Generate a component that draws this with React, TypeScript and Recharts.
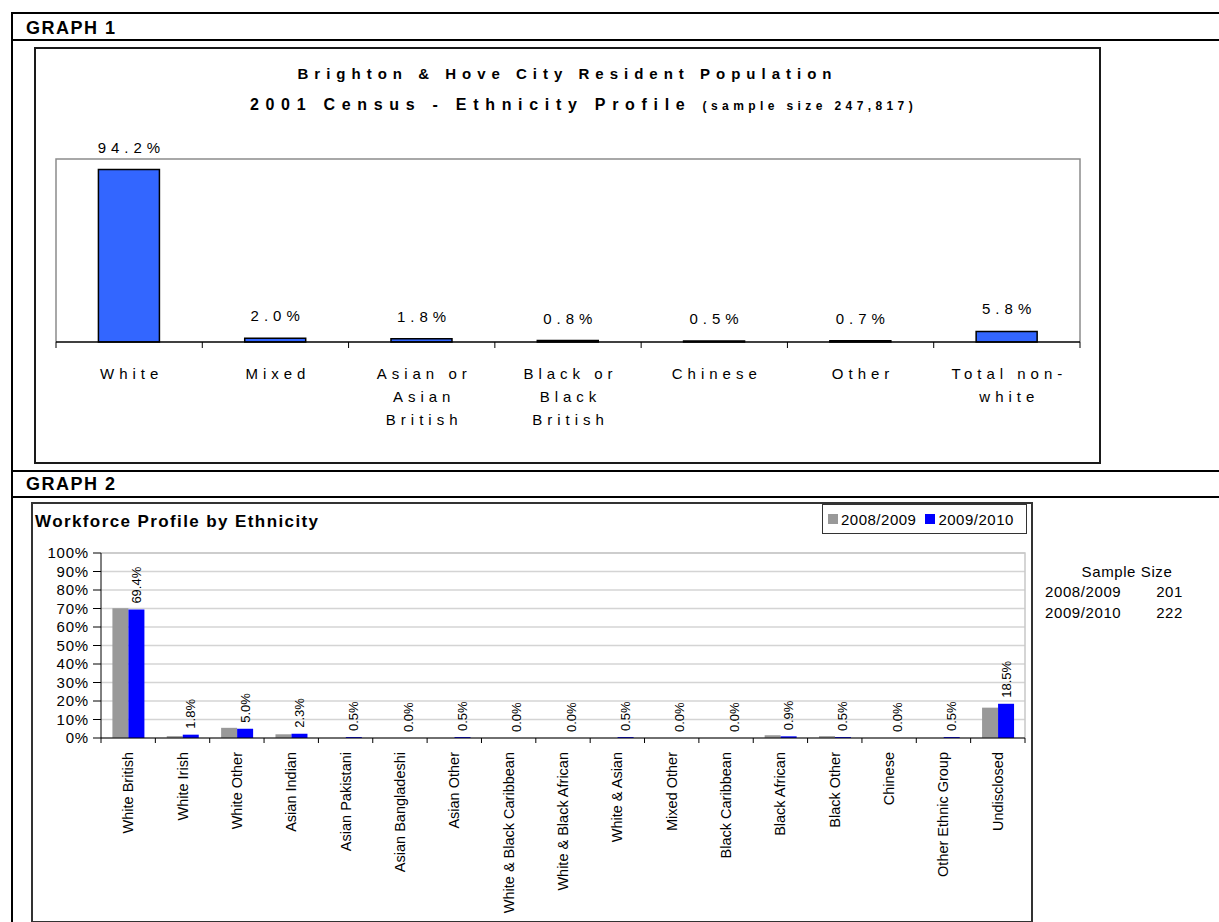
import { BarChart, Bar, XAxis, YAxis, CartesianGrid, LabelList, Legend, ReferenceArea } from "recharts";

const FONT = "'Liberation Sans', Arial, sans-serif";

// graph 1: 2001 census
const censusCategories = ["White", "Mixed", "Asian or Asian British", "Black or Black British", "Chinese", "Other", "Total non-white"];
const censusTickLines = [["White"], ["Mixed"], ["Asian or", "Asian", "British"], ["Black or", "Black", "British"], ["Chinese"], ["Other"], ["Total non-", "white"]];
const censusValues = [94.2, 2.0, 1.8, 0.8, 0.5, 0.7, 5.8];

// graph 2: workforce
const workforceCategories = [
  "White British", "White Irish", "White Other", "Asian Indian", "Asian Pakistani", "Asian Bangladeshi",
  "Asian Other", "White & Black Caribbean", "White & Black African", "White & Asian", "Mixed Other",
  "Black Caribbean", "Black African", "Black Other", "Chinese", "Other Ethnic Group", "Undisclosed",
];
const values0809 = [70.1, 1.0, 5.5, 2.0, 0, 0, 0, 0, 0, 0, 0, 0, 1.5, 1.0, 0, 0, 16.4];
const values0910 = [69.4, 1.8, 5.0, 2.3, 0.5, 0.0, 0.5, 0.0, 0.0, 0.5, 0.0, 0.0, 0.9, 0.5, 0.0, 0.5, 18.5];
const seriesNames = ["2008/2009", "2009/2010"];
const sampleSizes = [201, 222];
const percentTicks = [0, 10, 20, 30, 40, 50, 60, 70, 80, 90, 100];

const censusData = censusCategories.map((name, i) => ({ name, value: censusValues[i] }));
const workforceData = workforceCategories.map((name, i) => ({ name, a: values0809[i], b: values0910[i] }));

const G1 = { w: 1063, h: 413, ml: 20, mr: 19, mt: 110, xh: 120 };
const G2 = { w: 998, h: 416, yw: 68, mr: 6, mt: 49, xh: 182 };

function CensusTick(props: any) {
  const { x, y, payload } = props;
  const idx = censusCategories.indexOf(payload.value);
  const band = (G1.w - G1.ml - G1.mr) / censusCategories.length;
  const off = payload.offset || band / 2;
  const lines = censusTickLines[idx] || [payload.value];
  return (
    <g>
      <line x1={x - off} x2={x - off} y1={y} y2={y + 6} stroke="#000" />
      {idx === censusCategories.length - 1 && <line x1={x + off} x2={x + off} y1={y} y2={y + 6} stroke="#000" />}
      <text textAnchor="middle" fontSize={15} letterSpacing={5} fontFamily={FONT} fill="#000">
        {lines.map((l: string, i: number) => (
          <tspan key={i} x={x + 2.5} y={y + 37 + i * 23}>{l}</tspan>
        ))}
      </text>
    </g>
  );
}

function WorkforceTick(props: any) {
  const { x, y, payload } = props;
  const idx = workforceCategories.indexOf(payload.value);
  const band = (G2.w - G2.yw - G2.mr) / workforceCategories.length;
  const off = payload.offset || band / 2;
  const ty = y + 14;
  return (
    <g>
      <line x1={x - off} x2={x - off} y1={y} y2={y + 5} stroke="#000" />
      {idx === workforceCategories.length - 1 && <line x1={x + off} x2={x + off} y1={y} y2={y + 5} stroke="#000" />}
      <text x={x} y={ty} transform={`rotate(-90 ${x} ${ty})`} textAnchor="end" dominantBaseline="central"
        fontSize={14.5} fontFamily={FONT} fill="#000">
        {payload.value}
      </text>
    </g>
  );
}

const censusLabel = (p: any) => {
  const vb = p.viewBox || p;
  const x = vb.x ?? p.x, y = vb.y ?? p.y, w = vb.width ?? p.width;
  return (
    <text x={x + w / 2 + 2.5} y={y - 17} textAnchor="middle" fontSize={15} letterSpacing={5} fontFamily={FONT} fill="#000">
      {Number(p.value).toFixed(1)}%
    </text>
  );
};

const workforceLabel = (p: any) => {
  const vb = p.viewBox || p;
  const x = vb.x ?? p.x, y = vb.y ?? p.y, w = vb.width ?? p.width;
  const cx = x + w / 2, ty = y - 6;
  return (
    <text x={cx} y={ty} transform={`rotate(-90 ${cx} ${ty})`} textAnchor="start" dominantBaseline="central"
      fontSize={13} fontFamily={FONT} fill="#000">
      {Number(p.value).toFixed(1)}%
    </text>
  );
};

const legendContent = (p: any) => (
  <div style={{ width: 205, height: 30, boxSizing: "border-box", border: "1.5px solid #333", background: "#fff",
    display: "flex", alignItems: "center", paddingLeft: 5, fontFamily: FONT, fontSize: 15, letterSpacing: 0.5 }}>
    {(p.payload || []).map((e: any, i: number) => (
      <span key={i} style={{ display: "flex", alignItems: "center", marginRight: 9 }}>
        <span style={{ width: 10, height: 10, background: e.color, marginRight: 3, display: "inline-block" }} />
        {e.value}
      </span>
    ))}
  </div>
);

const frameG1 = (p: any) => (
  <path d={`M${p.x},${p.y + p.height}V${p.y}H${p.x + p.width}V${p.y + p.height}`} fill="none" stroke="#8c8c8c" strokeWidth={1.5} />
);
const frameG2 = (p: any) => (
  <path d={`M${p.x},${p.y}H${p.x + p.width}V${p.y + p.height}`} fill="none" stroke="#c8c8c8" strokeWidth={1.5} />
);

const abs = (s: any) => ({ position: "absolute" as const, ...s });
const hline = (top: number) => <div style={abs({ left: 11, top, width: 1208, height: 2, background: "#000" })} />;

export default function App() {
  return (
    <div style={abs({ left: 0, top: 0, width: 1219, height: 922, background: "#fff", overflow: "hidden", fontFamily: FONT, color: "#000" })}>
      {hline(12)}
      {hline(39)}
      {hline(470)}
      {hline(496)}
      <div style={abs({ left: 11, top: 12, width: 2, height: 910, background: "#000" })} />

      <div style={abs({ left: 26, top: 19, fontSize: 18, lineHeight: 1, fontWeight: "bold", letterSpacing: 1.5 })}>GRAPH 1</div>
      <div style={abs({ left: 26, top: 475, fontSize: 18, lineHeight: 1, fontWeight: "bold", letterSpacing: 1.5 })}>GRAPH 2</div>

      {/* graph 1 */}
      <div style={abs({ left: 34, top: 47, width: 1067, height: 417, border: "2px solid #1a1a1a", boxSizing: "border-box" })} />
      <div style={abs({ left: 34, top: 66, width: 1067, textAlign: "center", fontSize: 15, lineHeight: 1, fontWeight: "bold", letterSpacing: 6 })}>
        Brighton &amp; Hove City Resident Population
      </div>
      <div style={abs({ left: 50, top: 97, width: 1067, textAlign: "center", fontSize: 16, lineHeight: 1, fontWeight: "bold", letterSpacing: 6.7 })}>
        2001 Census - Ethnicity Profile <span style={{ fontSize: 12, letterSpacing: 4.4 }}>(sample size 247,817)</span>
      </div>
      <div style={abs({ left: 36, top: 49 })}>
        <BarChart width={G1.w} height={G1.h} data={censusData} barCategoryGap="29%"
          margin={{ top: G1.mt, right: G1.mr, left: G1.ml, bottom: 0 }}>
          <YAxis hide domain={[0, 100]} />
          <XAxis dataKey="name" height={G1.xh} interval={0} tickSize={0} tickMargin={0} tickLine={false}
            axisLine={{ stroke: "#000", strokeWidth: 1.5 }} tick={<CensusTick />} />
          <ReferenceArea y1={0} y2={100} shape={frameG1} />
          <Bar dataKey="value" fill="#3366FF" stroke="#000" strokeWidth={1.5} isAnimationActive={false}>
            <LabelList dataKey="value" content={censusLabel} />
          </Bar>
        </BarChart>
      </div>

      {/* graph 2 */}
      <div style={abs({ left: 31, top: 502, width: 1002, height: 421, border: "2px solid #333", boxSizing: "border-box" })} />
      <div style={abs({ left: 35, top: 513, fontSize: 17, lineHeight: 1, fontWeight: "bold", letterSpacing: 1.4 })}>
        Workforce Profile by Ethnicity
      </div>
      <div style={abs({ left: 33, top: 504 })}>
        <BarChart width={G2.w} height={G2.h} data={workforceData} barCategoryGap="21%" barGap={0}
          margin={{ top: G2.mt, right: G2.mr, left: 0, bottom: 0 }}>
          <CartesianGrid vertical={false} stroke="#d4d4d4" strokeWidth={1.5} />
          <YAxis width={G2.yw} domain={[0, 100]} ticks={percentTicks} interval={0} tickFormatter={(v) => `${v}%`}
            tickSize={8} tickMargin={4} axisLine={{ stroke: "#000" }} tickLine={{ stroke: "#000" }}
            tick={{ fontSize: 15, fill: "#000", fontFamily: FONT, letterSpacing: 0.8 }} />
          <XAxis dataKey="name" height={G2.xh} interval={0} tickSize={0} tickMargin={0} tickLine={false}
            axisLine={{ stroke: "#000" }} tick={<WorkforceTick />} />
          <ReferenceArea y1={0} y2={100} shape={frameG2} />
          <Legend layout="horizontal" verticalAlign="middle" align="center" content={legendContent}
            wrapperStyle={{ left: 789, top: 0, width: 205, height: 30 }} />
          <Bar dataKey="a" name={seriesNames[0]} fill="#999999" isAnimationActive={false} />
          <Bar dataKey="b" name={seriesNames[1]} fill="#0000FF" minPointSize={0.01} isAnimationActive={false}>
            <LabelList dataKey="b" content={workforceLabel} />
          </Bar>
        </BarChart>
      </div>

      {/* sample size note */}
      <div style={abs({ left: 1060, top: 564, width: 134, textAlign: "center", fontSize: 15, lineHeight: 1, letterSpacing: 0.6 })}>Sample Size</div>
      {seriesNames.map((s, i) => (
        <div key={s} style={abs({ left: 1045, top: 584 + i * 20.5, width: 138, fontSize: 15, lineHeight: 1, letterSpacing: 0.6, display: "flex", justifyContent: "space-between" })}>
          <span>{s}</span>
          <span>{sampleSizes[i]}</span>
        </div>
      ))}
    </div>
  );
}
